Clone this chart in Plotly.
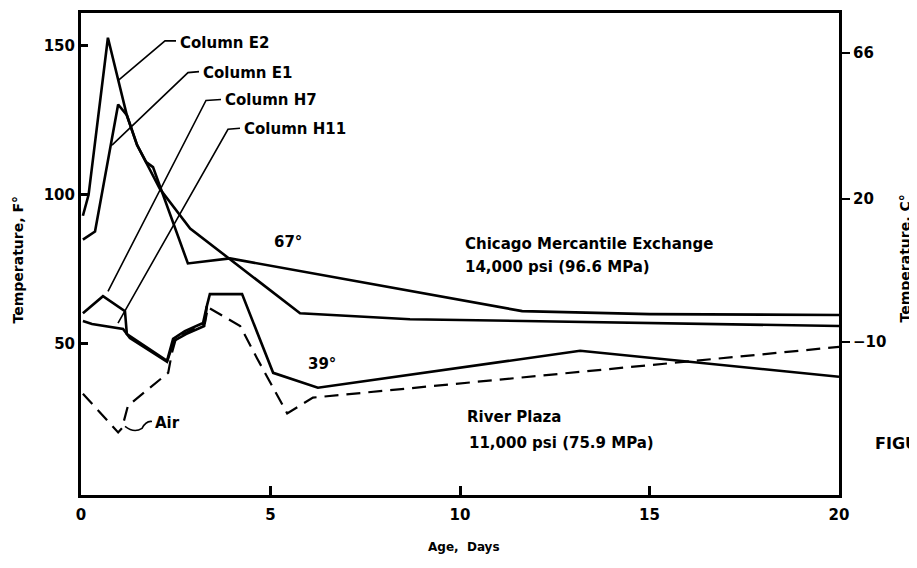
import plotly.graph_objects as go

# ---- data (Age in days, Temperature in F) ----
days_e2 = [0.05, 0.20, 0.71, 1.21, 1.48, 2.08, 2.88, 5.78, 8.68, 15.0, 20.0]
temp_e2 = [93.0, 100.0, 152.7, 126.7, 116.7, 102.0, 88.7, 60.3, 58.3, 57.0, 56.0]

days_e1 = [0.05, 0.37, 0.98, 1.21, 1.48, 1.72, 1.90, 2.82, 3.93, 11.64, 15.0, 20.0]
temp_e1 = [85.0, 87.7, 130.3, 126.7, 116.7, 111.0, 109.3, 77.0, 78.7, 61.0, 60.0, 59.7]

days_h7 = [0.05, 0.58, 1.16, 1.21, 2.27, 2.43, 2.74, 3.22, 3.32, 3.40, 4.25, 5.07, 6.25, 13.17, 20.0]
temp_h7 = [60.3, 66.0, 61.0, 53.3, 44.3, 51.7, 54.3, 57.0, 62.7, 66.7, 66.7, 40.3, 35.3, 47.7, 39.0]

days_h11 = [0.05, 0.29, 1.11, 1.29, 2.27, 2.45, 2.77, 3.25, 3.32]
temp_h11 = [57.7, 56.7, 55.0, 52.0, 44.0, 51.0, 53.3, 56.0, 62.7]

days_air = [0.05, 0.98, 1.08, 1.24, 2.30, 2.40, 2.51, 3.27, 3.35, 3.85, 4.20, 4.64, 5.44, 6.12, 20.0]
temp_air = [33.3, 20.3, 21.7, 29.3, 40.3, 47.0, 52.0, 57.0, 62.3, 58.7, 56.0, 45.3, 26.7, 32.0, 49.0]

x_ticks = [0, 5, 10, 15, 20]
f_ticks = [50, 100, 150]
c_tick_pos = [147.7, 98.7, 50.7]
c_tick_text = ["66", "20", "\u221210"]

# ---- layout geometry (page pixels; page body has an 8px margin) ----
PAGE_OFF = 8
W, H = 917 - PAGE_OFF, 568 - PAGE_OFF
L, R, T, B = 81, 839, 10, 495          # plot frame in page pixels
XMIN, XMAX = 0, 20
YMIN, YMAX = -0.67, 161.0


def px_x(px):
    return XMIN + (px - L) / (R - L) * (XMAX - XMIN)


def px_y(py):
    return YMIN + (B - py) / (B - T) * (YMAX - YMIN)


FONT = "DejaVu Sans"
line_w = 2.6

fig = go.Figure()
for xs, ys in [(days_e2, temp_e2), (days_e1, temp_e1), (days_h7, temp_h7), (days_h11, temp_h11)]:
    fig.add_trace(go.Scatter(x=xs, y=ys, mode="lines",
                             line=dict(color="black", width=line_w),
                             hoverinfo="skip", showlegend=False))
fig.add_trace(go.Scatter(x=days_air, y=temp_air, mode="lines",
                         line=dict(color="black", width=2.2, dash="14px,8px"),
                         hoverinfo="skip", showlegend=False))
# invisible trace so the right (Celsius) axis is drawn
fig.add_trace(go.Scatter(x=[days_air[-1]], y=[temp_air[-1]], yaxis="y2", mode="markers",
                         marker=dict(opacity=0), hoverinfo="skip", showlegend=False))


def txt(s, px, py, size=15, xanchor="left", angle=0, ref="data"):
    font = dict(family=FONT, size=size, color="black", weight="bold")
    if ref == "data":
        fig.add_annotation(x=px_x(px), y=px_y(py), xref="x", yref="y", text=s,
                           showarrow=False, xanchor=xanchor, yanchor="middle",
                           textangle=angle, font=font)
    else:
        fig.add_annotation(x=(px - L) / (R - L), y=(B - py) / (B - T), xref="paper", yref="paper",
                           text=s, showarrow=False, xanchor=xanchor, yanchor="middle",
                           textangle=angle, font=font)


txt("Column E2", 178, 40)
txt("Column E1", 201, 70)
txt("Column H7", 223, 98)
txt("Column H11", 242, 127)
txt("67\u00b0", 288, 240, xanchor="center")
txt("Chicago Mercantile Exchange", 463, 242)
txt("14,000 psi (96.6 MPa)", 463, 266)
txt("39\u00b0", 322, 363, xanchor="center")
txt("River Plaza", 465, 417)
txt("11,000 psi (75.9 MPa)", 467, 443)
txt("Air", 153, 423)
txt("FIGU", 873, 443, size=16, ref="paper")
txt("Temperature, F\u00b0", 18, 258, size=14, xanchor="center", angle=-90, ref="paper")
txt("Temperature, C\u00b0", 905, 257, size=14, xanchor="center", angle=-90, ref="paper")
txt("Age,  Days", 464, 547, size=12, xanchor="center", ref="paper")

# leader lines
leaders = [
    [(176, 38), (165, 38), (118, 78)],
    [(199, 69), (188, 70), (112, 143)],
    [(221, 97), (206, 98), (108, 290)],
    [(240, 126), (228, 127), (118, 322)],
]
for pts in leaders:
    path = "M " + " L ".join(f"{px_x(a)},{px_y(b)}" for a, b in pts)
    fig.add_shape(type="path", path=path, xref="x", yref="y",
                  line=dict(color="black", width=1.6))
air_path = (f"M {px_x(125)},{px_y(426)} Q {px_x(134)},{px_y(433)} {px_x(142)},{px_y(428)} "
            f"Q {px_x(146)},{px_y(420)} {px_x(152)},{px_y(421)}")
fig.add_shape(type="path", path=air_path, xref="x", yref="y",
              line=dict(color="black", width=1.6))

tick_font = dict(family=FONT, size=15, color="black", weight="bold")
fig.update_layout(
    width=W, height=H,
    margin=dict(l=L - PAGE_OFF, r=917 - R, t=T - PAGE_OFF, b=568 - B),
    paper_bgcolor="white", plot_bgcolor="white",
    showlegend=False,
    xaxis=dict(range=[XMIN, XMAX], tickvals=x_ticks, ticks="inside", ticklen=9,
               tickwidth=2.5, tickcolor="black", showgrid=False, zeroline=False,
               showline=True, mirror=True, linewidth=3, linecolor="black",
               tickfont=tick_font, ticklabelstandoff=4, fixedrange=True),
    yaxis=dict(range=[YMIN, YMAX], tickvals=f_ticks, ticks="inside", ticklen=7,
               tickwidth=2.5, tickcolor="black", showgrid=False, zeroline=False,
               showline=True, mirror=True, linewidth=3, linecolor="black",
               tickfont=tick_font, fixedrange=True),
    yaxis2=dict(range=[YMIN, YMAX], overlaying="y", side="right", tickvals=c_tick_pos,
                ticktext=c_tick_text, ticks="outside", ticklen=10, tickwidth=2,
                tickcolor="black", showgrid=False, zeroline=False, showline=False,
                tickfont=tick_font, fixedrange=True),
)

fig.write_html("out.html")
